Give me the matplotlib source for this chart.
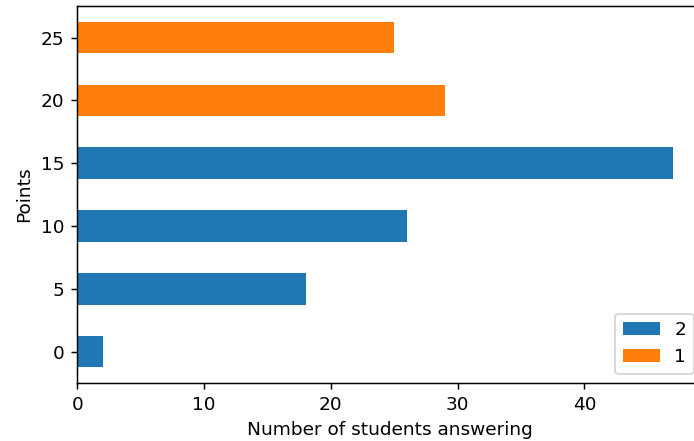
import matplotlib
matplotlib.use("Agg")
import matplotlib.pyplot as plt
import numpy as np

points = ["0", "5", "10", "15", "20", "25"]
students_2 = [2, 18, 26, 47, 0, 0]
students_1 = [0, 0, 0, 0, 29, 25]
series_labels = ["2", "1"]

DPI = 133.3
fig = plt.figure(figsize=(694 / DPI, 441 / DPI), dpi=DPI)
# the axes run slightly past the right edge of the canvas
ax = fig.add_axes([0.1115, 0.1315, 0.9015, 0.8545])

pos = np.arange(len(points))
ax.barh(pos, students_2, height=0.5, color="#1f77b4", label=series_labels[0])
ax.barh(pos, students_1, height=0.5, left=students_2, color="#ff7f0e", label=series_labels[1])

totals = np.array(students_2) + np.array(students_1)
ax.set_xlim(0, totals.max() * 1.05)
ax.set_yticks(pos)
ax.set_yticklabels(points)
ax.set_ylim(-0.5, len(points) - 0.5)
ax.set_xticks([0, 10, 20, 30, 40])
ax.set_xlabel("Number of students answering")
ax.set_ylabel("Points")
ax.legend(loc="lower right")

fig.savefig("out.png", dpi=DPI)
